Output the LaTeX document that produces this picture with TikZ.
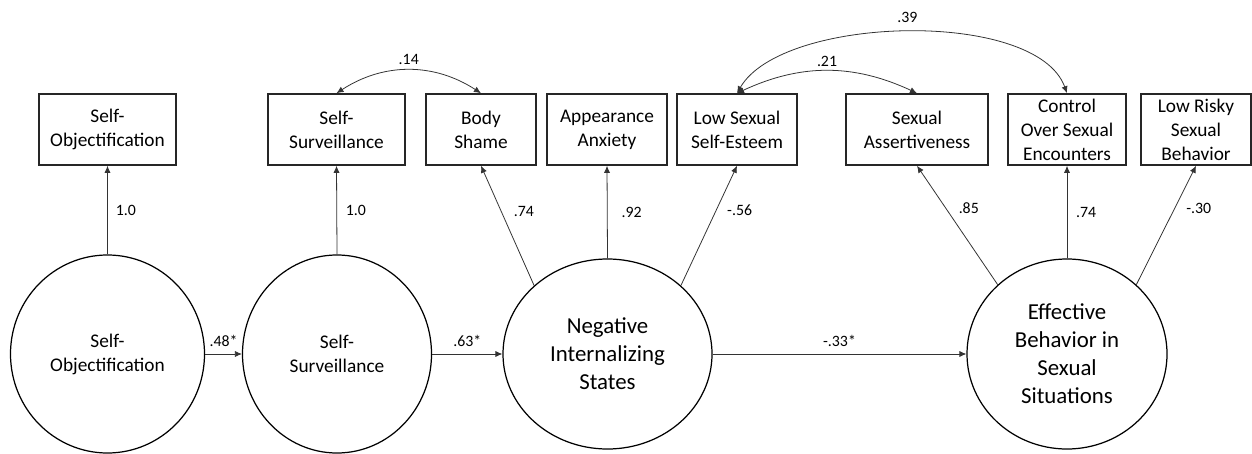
\documentclass[tikz,border=0pt]{standalone}
\usepackage{fontspec}
\setmainfont{Carlito}
\usetikzlibrary{arrows.meta}
\usetikzlibrary{shapes.geometric}

\begin{document}
\begin{tikzpicture}[obs/.style={draw=black!85, line width=0.9pt, rectangle, minimum height=1.42cm, inner sep=0pt, align=center, font=\fontsize{11}{13.6}\selectfont},
    lat/.style={draw=black, line width=0.7pt, ellipse, inner sep=0pt, align=center},
    load/.style={draw=black!80, line width=0.45pt, -{Latex[length=4pt,width=3.5pt]}},
    cov/.style={draw=black!80, line width=0.45pt, {Latex[length=4pt,width=3.5pt]}-{Latex[length=4pt,width=3.5pt]}},
    coef/.style={font=\fontsize{9}{11}\selectfont, inner sep=2pt}]
          \useasboundingbox (0,0) rectangle (25.04,9.06);

          % Indicators
          \node (so) at (2.15, 6.47)[obs, minimum width=2.74cm] {Self-\\Objectification};
          \node (ss) at (6.73, 6.47)[obs, minimum width=2.74cm] {Self-\\Surveillance};
          \node (bs) at (9.62, 6.47)[obs, minimum width=2.2cm] {Body\\Shame};
          \node (aa) at (12.14, 6.47)[obs, minimum width=2.4cm] {Appearance\\Anxiety};
          \node (lse) at (14.74, 6.47)[obs, minimum width=2.4cm] {Low Sexual\\Self-Esteem};
          \node (sa) at (18.34, 6.47)[obs, minimum width=2.84cm] {Sexual\\Assertiveness};
          \node (co) at (21.34, 6.47)[obs, minimum width=2.36cm] {Control\\Over Sexual\\Encounters};
          \node (lr) at (23.92, 6.47)[obs, minimum width=2.2cm] {Low Risky\\Sexual\\Behavior};

          % Latent variables
          \node (SO) at (2.15, 1.98)[lat, minimum width=3.88cm, minimum height=3.96cm, font=\fontsize{11}{13.6}\selectfont] {Self-\\Objectification};
          \node (SS) at (6.74, 1.98)[lat, minimum width=3.78cm, minimum height=3.96cm, font=\fontsize{11}{13.6}\selectfont] {Self-\\Surveillance};
          \node (NIS) at (12.15, 1.98)[lat, minimum width=4.18cm, minimum height=3.8cm, font=\fontsize{13}{16}\selectfont] {Negative\\Internalizing\\States};
          \node (EB) at (21.34, 1.98)[lat, minimum width=4.0cm, minimum height=3.8cm, font=\fontsize{13}{16}\selectfont] {Effective\\Behavior in\\Sexual\\Situations};

          % Structural paths
          \draw[load] (SO) -- (SS) node[coef, midway, above=2pt] {.48*};
          \draw[load] (SS) -- (NIS) node[coef, midway, above=2pt] {.63*};
          \draw[load] (NIS) -- (EB) node[coef, midway, above=2pt] {-.33*};

          % Loadings
          \draw[load] (SO.north) -- (so.south) node[coef, midway, right=2.5pt] {1.0};
          \draw[load] (SS.north) -- (ss.south) node[coef, midway, right=3pt] {1.0};
          \draw[load] (NIS.137) -- (bs.south) node[coef, pos=0.62, right=5pt] {.74};
          \draw[load] (NIS.north) -- (aa.south) node[coef, midway, right=6pt] {.92};
          \draw[load] (NIS.43) -- (lse.south) node[coef, pos=0.63, right=4pt] {-.56};
          \draw[load] (EB.135) -- (sa.south) node[coef, pos=0.64, right=5pt] {.85};
          \draw[load] (EB.north) -- (co.south) node[coef, midway, right=3pt] {.74};
          \draw[load] (EB.45) -- (lr.south) node[coef, pos=0.64, right=4.5pt] {-.30};

          % Residual covariances
          \draw[cov] (ss.north) to[bend left=33] node[coef, midway, above=1pt] {.14} (bs.north);
          \draw[cov] (lse.north) to[bend left=25] node[coef, midway, above=0pt] {.21} (sa.north);
          \draw[cov] (lse.north) to[out=60, in=110, looseness=0.7] node[coef, midway, above=3pt] {.39} (co.north);
      \end{tikzpicture}
\end{document}
